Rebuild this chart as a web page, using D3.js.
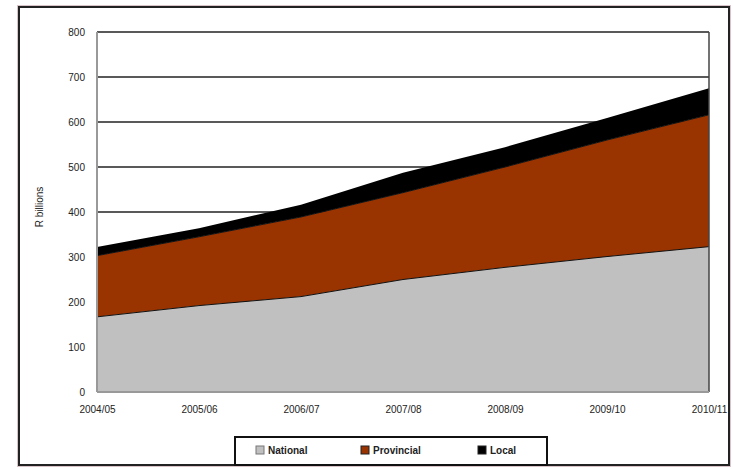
<!DOCTYPE html>
<html>
<head>
<meta charset="utf-8">
<script src="https://cdn.jsdelivr.net/npm/d3@7"></script>
<style>
  body { margin: 0; background: #fff; }
  text { font-family: "Liberation Sans", Arial, sans-serif; fill: #222; }
</style>
</head>
<body>
<div id="chart"></div>
<script>
// values (R billions)
var years = ["2004/05", "2005/06", "2006/07", "2007/08", "2008/09", "2009/10", "2010/11"];
var national = [167, 192, 212, 250, 277, 301, 323];
var provincial = [136, 153, 177, 193, 223, 259, 293];
var local = [19, 19, 27, 44, 44, 49, 59];
var seriesNames = ["National", "Provincial", "Local"];
var colors = ["#c0c0c0", "#993300", "#000000"];
var yTicks = [0, 100, 200, 300, 400, 500, 600, 700, 800];

var svgWidth = 733;
var svgHeight = 469;

var margin = { top: 32, right: 24, bottom: 77, left: 97 };
var width = 709 - margin.left;
var height = 392 - margin.top;

var svg = d3.select("#chart")
    .append("svg")
    .attr("width", svgWidth)
    .attr("height", svgHeight);

// outer frame
svg.append("rect")
    .attr("x", 17.5).attr("y", 5.5)
    .attr("width", 713).attr("height", 461)
    .attr("fill", "none")
    .attr("stroke", "#d8c4c8")
    .attr("stroke-width", 1);
svg.append("rect")
    .attr("x", 19).attr("y", 7)
    .attr("width", 710).attr("height", 458)
    .attr("fill", "none")
    .attr("stroke", "#222")
    .attr("stroke-width", 2);

var chart = svg.append("g")
    .attr("transform", `translate(${margin.left}, ${margin.top})`);

var table = years.map(function(y, i) {
    return { year: y, National: national[i], Provincial: provincial[i], Local: local[i] };
});

var x = d3.scalePoint()
    .domain(years)
    .range([0, width]);

var y = d3.scaleLinear()
    .domain([0, 800])
    .range([height, 0]);

// gridlines
chart.selectAll(".grid")
    .data(yTicks.filter(d => d > 0))
    .enter()
    .append("line")
    .attr("x1", 0).attr("x2", width)
    .attr("y1", d => y(d)).attr("y2", d => y(d))
    .attr("stroke", "#222")
    .attr("stroke-width", 1.5);

var stacked = d3.stack().keys(seriesNames)(table);

var area = d3.area()
    .x(d => x(d.data.year))
    .y0(d => y(d[0]))
    .y1(d => y(d[1]));

chart.selectAll(".layer")
    .data(stacked)
    .enter()
    .append("path")
    .attr("d", area)
    .attr("fill", (d, i) => colors[i]);

var topLine = d3.line()
    .x(d => x(d.data.year))
    .y(d => y(d[1]));

chart.selectAll(".edge")
    .data(stacked.slice(0, 2))
    .enter()
    .append("path")
    .attr("d", topLine)
    .attr("fill", "none")
    .attr("stroke", "#111")
    .attr("stroke-width", 1);

// plot border lines
chart.append("line")
    .attr("x1", 0).attr("x2", 0).attr("y1", 0).attr("y2", height)
    .attr("stroke", "#999").attr("stroke-width", 2);
chart.append("line")
    .attr("x1", width).attr("x2", width).attr("y1", 0).attr("y2", height)
    .attr("stroke", "#444").attr("stroke-width", 1.5);
chart.append("line")
    .attr("x1", 0).attr("x2", width).attr("y1", height).attr("y2", height)
    .attr("stroke", "#999").attr("stroke-width", 2);

// axes (labels only)
var leftAxis = d3.axisLeft(y).tickValues(yTicks).tickSize(0).tickPadding(12);
var gy = chart.append("g").call(leftAxis);
gy.select(".domain").remove();
gy.selectAll("text").style("font-size", "10px").style("font-family", "Liberation Sans, Arial, sans-serif");

var bottomAxis = d3.axisBottom(x).tickSize(0).tickPadding(14);
var gx = chart.append("g")
    .attr("transform", `translate(0, ${height})`)
    .call(bottomAxis);
gx.select(".domain").remove();
gx.selectAll("text").style("font-size", "10px").style("font-family", "Liberation Sans, Arial, sans-serif");

chart.append("text")
    .attr("transform", "rotate(-90)")
    .attr("x", 0 - 175)
    .attr("y", 0 - 54)
    .attr("text-anchor", "middle")
    .style("font-size", "10px")
    .text("R billions");

// legend
var legend = svg.append("g");
legend.append("rect")
    .attr("x", 235).attr("y", 437)
    .attr("width", 312).attr("height", 28)
    .attr("fill", "#fff")
    .attr("stroke", "#111")
    .attr("stroke-width", 2);

var legendX = [256, 361, 478];
seriesNames.forEach(function(name, i) {
    legend.append("rect")
        .attr("x", legendX[i]).attr("y", 446)
        .attr("width", 8).attr("height", 8)
        .attr("fill", colors[i])
        .attr("stroke", i === 0 ? "#777" : "#222")
        .attr("stroke-width", 1);
    legend.append("text")
        .attr("x", legendX[i] + 12).attr("y", 454)
        .style("font-size", "10px")
        .style("font-weight", "bold")
        .text(name);
});
</script>
</body>
</html>
